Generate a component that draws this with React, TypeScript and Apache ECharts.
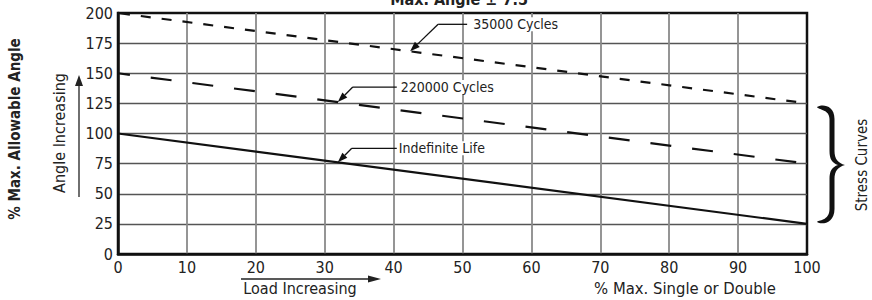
import React, { useEffect, useRef } from 'react';
import * as echarts from 'echarts';

// ---- data ----
const loadPercent = [0, 100];
const cycles35000 = [200, 125];
const cycles220000 = [150, 75];
const indefiniteLife = [100, 25];
const xTicks = [0, 10, 20, 30, 40, 50, 60, 70, 80, 90, 100];
const yTicks = [0, 25, 50, 75, 100, 125, 150, 175, 200];
const seriesNames = ['35000 Cycles', '220000 Cycles', 'Indefinite Life'];
const titleText = 'Max. Angle \u00b1 7.5';

const FONT = "'Liberation Sans Narrow', 'DejaVu Sans Condensed', 'Arial Narrow', sans-serif";
const BRACE_D =
  'M0 2 C4 -1 17.5 -1 17.5 14 L17.5 46 C17.5 54 21 58 28 60 C21 62 17.5 66 17.5 74 L17.5 104 C17.5 119 4 120 0 117 C1 115 12.5 116 12.5 104 L12.5 74 C12.5 66 15 62 21 60 C15 58 12.5 54 12.5 46 L12.5 14 C12.5 4 1 5 0 2 Z';

let braceRegistered = false;

function arrowHead(tx: number, ty: number, ex: number, ey: number, len = 10, half = 3.5) {
  const dx = tx - ex;
  const dy = ty - ey;
  const d = Math.hypot(dx, dy);
  const ux = dx / d;
  const uy = dy / d;
  const bx = tx - ux * len;
  const by = ty - uy * len;
  const nx = -uy;
  const ny = ux;
  return {
    base: [bx, by],
    points: [
      [tx, ty],
      [bx + nx * half, by + ny * half],
      [bx - nx * half, by - ny * half],
    ],
  };
}

export default function App() {
  const ref = useRef<HTMLDivElement>(null);
  useEffect(() => {
    if (!braceRegistered) {
      echarts.graphic.registerShape('brace', echarts.graphic.extendPath(BRACE_D, {}) as any);
      braceRegistered = true;
    }
    const chart = echarts.init(ref.current!, null, { renderer: 'svg' });
    const mk = (vals: number[]) => loadPercent.map((x, i) => [x, vals[i]]);
    const allSeries = [cycles35000, cycles220000, indefiniteLife];
    const dashes: any[] = [[10, 11], [21, 21], 'solid'];
    const offsets = [-2, 9, 0];
    chart.setOption({
      animation: false,
      grid: {
        left: 118,
        right: 65,
        top: 13,
        bottom: 46,
        show: true,
        borderColor: '#111',
        borderWidth: 2.5,
        backgroundColor: 'transparent',
      },
      xAxis: {
        type: 'value',
        min: xTicks[0],
        max: xTicks[xTicks.length - 1],
        interval: xTicks[1] - xTicks[0],
        axisLine: { show: true, lineStyle: { color: '#111', width: 2.5 } },
        axisTick: { show: false },
        axisLabel: { color: '#222', fontFamily: FONT, fontSize: 16, margin: 5 },
        splitLine: { show: true, showMinLine: false, showMaxLine: false, lineStyle: { color: '#8a8a8a', width: 1.8 } },
      },
      yAxis: {
        type: 'value',
        min: yTicks[0],
        max: yTicks[yTicks.length - 1],
        interval: yTicks[1] - yTicks[0],
        axisLine: { show: true, lineStyle: { color: '#111', width: 2.5 } },
        axisTick: { show: false },
        axisLabel: { color: '#222', fontFamily: FONT, fontSize: 16, margin: 5 },
        splitLine: { show: true, showMinLine: false, showMaxLine: false, lineStyle: { color: '#555', width: 1.4 } },
      },
      series: allSeries.map((vals, i) => ({
        name: seriesNames[i],
        type: 'line',
        data: mk(vals),
        showSymbol: false,
        symbol: 'none',
        z: 5,
        lineStyle: { color: '#111', width: 2.2, type: dashes[i], dashOffset: offsets[i] },
      })),
    });

    const annotations = [
      { idx: 0, at: 42.4, dx: 28, dy: -27, lineLen: 29, gap: 6 },
      { idx: 1, at: 31.9, dx: 15, dy: -15, lineLen: 44, gap: 4 },
      { idx: 2, at: 31.9, dx: 14, dy: -14, lineLen: 45, gap: 2 },
    ];
    const g: any[] = [];
    annotations.forEach((a) => {
      const vals = allSeries[a.idx];
      const y = vals[0] + ((vals[1] - vals[0]) * (a.at - loadPercent[0])) / (loadPercent[1] - loadPercent[0]);
      const [tx, ty] = chart.convertToPixel({ gridIndex: 0 }, [a.at, y]) as number[];
      const ex = tx + a.dx;
      const ey = ty + a.dy;
      const ah = arrowHead(tx, ty, ex, ey);
      g.push({ type: 'line', z: 10, shape: { x1: ex, y1: ey, x2: ah.base[0], y2: ah.base[1] }, style: { stroke: '#111', lineWidth: 1.3 } });
      g.push({ type: 'polygon', z: 10, shape: { points: ah.points }, style: { fill: '#111' } });
      g.push({ type: 'line', z: 10, shape: { x1: ex, y1: ey, x2: ex + a.lineLen, y2: ey }, style: { stroke: '#111', lineWidth: 1.3 } });
      g.push({
        type: 'text',
        z: 10,
        x: ex + a.lineLen + a.gap,
        y: ey,
        style: { text: seriesNames[a.idx], fill: '#222', font: `14px ${FONT}`, align: 'left', verticalAlign: 'middle', backgroundColor: '#fff' },
      });
    });

    // title (cropped at top, as in the reference)
    g.push({ type: 'text', x: 459, y: 7, style: { text: titleText, fill: '#222', font: `bold 16px ${FONT}`, align: 'center', verticalAlign: 'bottom' } });
    // y-axis name
    g.push({ type: 'text', x: 15, y: 129, rotation: Math.PI / 2, style: { text: '% Max. Allowable Angle', fill: '#222', font: `bold 15px ${FONT}`, align: 'center', verticalAlign: 'middle' } });
    // Angle increasing
    g.push({ type: 'text', x: 59, y: 133, rotation: Math.PI / 2, style: { text: 'Angle Increasing', fill: '#222', font: `16px ${FONT}`, align: 'center', verticalAlign: 'middle' } });
    const up = arrowHead(79, 75, 79, 197, 11, 4);
    g.push({ type: 'line', shape: { x1: 79, y1: 197, x2: 79, y2: up.base[1] }, style: { stroke: '#222', lineWidth: 1.3 } });
    g.push({ type: 'polygon', shape: { points: up.points }, style: { fill: '#222' } });
    // Load increasing
    g.push({ type: 'text', x: 300, y: 288, style: { text: 'Load Increasing', fill: '#222', font: `16px ${FONT}`, align: 'center', verticalAlign: 'middle' } });
    const rt = arrowHead(381, 279, 241, 279, 13, 3.5);
    g.push({ type: 'line', shape: { x1: 241, y1: 279, x2: rt.base[0], y2: 279 }, style: { stroke: '#222', lineWidth: 1.3 } });
    g.push({ type: 'polygon', shape: { points: rt.points }, style: { fill: '#222' } });
    // x-axis name
    g.push({ type: 'text', x: 685, y: 288, style: { text: '% Max. Single or Double', fill: '#222', font: `16.5px ${FONT}`, align: 'center', verticalAlign: 'middle' } });
    // brace + Stress Curves
    g.push({ type: 'brace', x: 817, y: 105, style: { fill: '#111' } });
    g.push({ type: 'text', x: 862, y: 165, rotation: Math.PI / 2, style: { text: 'Stress Curves', fill: '#222', font: `15px ${FONT}`, align: 'center', verticalAlign: 'middle' } });

    chart.setOption({ graphic: g });
    return () => chart.dispose();
  }, []);
  return <div ref={ref} style={{ position: 'absolute', left: 0, top: 0, width: 872, height: 300 }} />;
}
